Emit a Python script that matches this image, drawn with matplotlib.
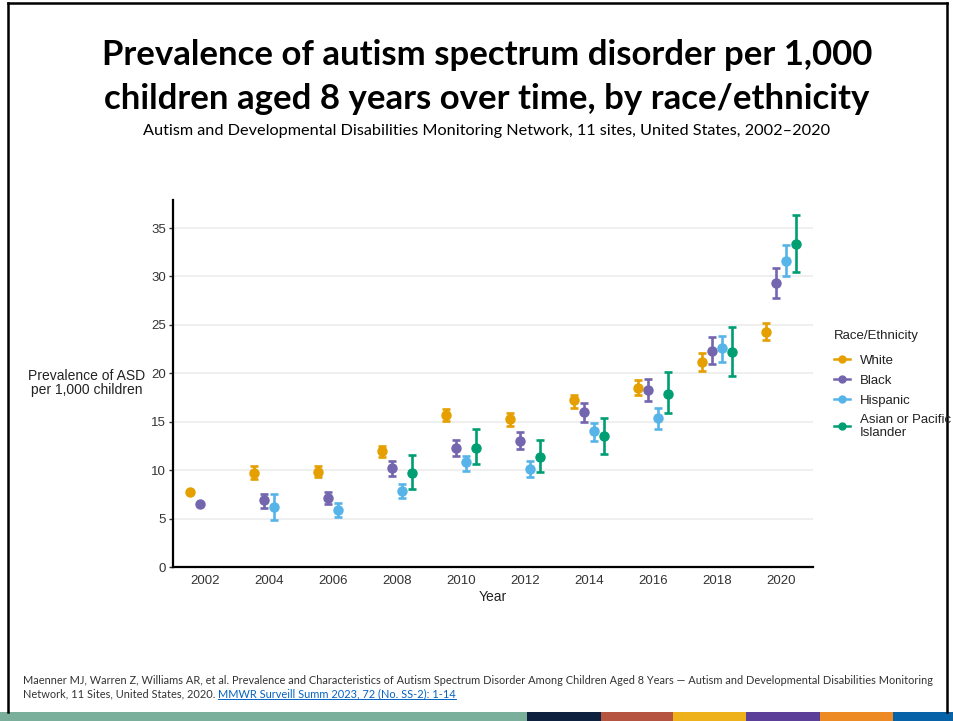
import numpy as np
import matplotlib.pyplot as plt
from matplotlib.lines import Line2D
from matplotlib.patches import Rectangle

# data (per 1,000 children)
years = [2002, 2004, 2006, 2008, 2010, 2012, 2014, 2016, 2018, 2020]
nan = np.nan

white = [7.7, 9.7, 9.8, 12.0, 15.7, 15.3, 17.2, 18.5, 21.2, 24.3]
white_lo = [7.7, 9.1, 9.3, 11.4, 15.1, 14.6, 16.4, 17.8, 20.2, 23.4]
white_hi = [7.7, 10.4, 10.4, 12.5, 16.3, 15.9, 17.8, 19.3, 22.1, 25.2]

black = [6.5, 6.9, 7.1, 10.2, 12.3, 13.0, 16.0, 18.3, 22.3, 29.3]
black_lo = [6.5, 6.1, 6.5, 9.4, 11.5, 12.2, 15.0, 17.1, 21.0, 27.8]
black_hi = [6.5, 7.5, 7.7, 10.9, 13.1, 13.9, 16.9, 19.4, 23.8, 30.9]

hispanic = [nan, 6.2, 5.9, 7.9, 10.8, 10.1, 14.0, 15.4, 22.6, 31.6]
hispanic_lo = [nan, 4.9, 5.2, 7.1, 9.9, 9.3, 13.0, 14.3, 21.2, 30.0]
hispanic_hi = [nan, 7.5, 6.6, 8.6, 11.5, 10.9, 14.9, 16.4, 23.9, 33.3]

asian = [nan, nan, nan, 9.7, 12.3, 11.4, 13.5, 17.9, 22.2, 33.4]
asian_lo = [nan, nan, nan, 8.1, 10.6, 9.8, 11.7, 15.9, 19.7, 30.5]
asian_hi = [nan, nan, nan, 11.6, 14.2, 13.1, 15.4, 20.1, 24.8, 36.4]

groups = ['White', 'Black', 'Hispanic', 'Asian or Pacific\nIslander']
colors = ['#E69F00', '#7466AE', '#56B4E9', '#009E73']
offsets = [-0.47, -0.155, 0.155, 0.47]

series = [(white, white_lo, white_hi), (black, black_lo, black_hi),
          (hispanic, hispanic_lo, hispanic_hi), (asian, asian_lo, asian_hi)]

W, H = 954, 721
fig = plt.figure(figsize=(W / 100, H / 100), dpi=100)
ax = fig.add_axes([173 / W, 1 - 567 / H, (813 - 173) / W, (567 - 200) / H])

axis_font = 'Liberation Sans'
slide_font = 'Lato'

for (val, lo, hi), col, off in zip(series, colors, offsets):
    v = np.array(val, dtype=float)
    l = np.array(lo, dtype=float)
    h = np.array(hi, dtype=float)
    ok = ~np.isnan(v)
    x = np.array(years, dtype=float)[ok] + off
    ax.errorbar(x, v[ok], yerr=[v[ok] - l[ok], h[ok] - v[ok]], fmt='o', color=col,
                markersize=6.5, elinewidth=1.9, capsize=3, capthick=1.9, zorder=3)

ax.set_xlim(2001, 2021)
ax.set_ylim(0, 37.9)
ax.set_xticks(years)
ax.set_yticks([0, 5, 10, 15, 20, 25, 30, 35])
ax.tick_params(axis='x', length=0, pad=6, labelsize=9.5, labelcolor='#333333')
ax.tick_params(axis='y', length=3, width=1, color='#333333', pad=2,
               labelsize=9.5, labelcolor='#333333')
for lab in ax.get_xticklabels() + ax.get_yticklabels():
    lab.set_family(axis_font)

ax.grid(axis='y', color='#EBEBEB', linewidth=1.1)
ax.set_axisbelow(True)
for s in ['top', 'right']:
    ax.spines[s].set_visible(False)
for s in ['left', 'bottom']:
    ax.spines[s].set_linewidth(1.6)
    ax.spines[s].set_color('black')

ax.set_xlabel('Year', family=axis_font, fontsize=10, color='#222222', labelpad=2)
fig.text(87 / W, 1 - 383 / H, 'Prevalence of ASD\nper 1,000 children', ha='center',
         va='center', family=axis_font, fontsize=10, color='#222222', linespacing=1.0)

# legend
handles = [Line2D([0], [0], color=c, marker='o', markersize=5, linewidth=1.8) for c in colors]
leg = fig.legend(handles, groups, loc='upper left', bbox_to_anchor=(834 / W, 1 - 330 / H),
                 frameon=False, title='Race/Ethnicity', alignment='left',
                 prop={'family': axis_font, 'size': 9.5}, handlelength=1.25,
                 handletextpad=0.7, labelspacing=0.58, borderpad=0, borderaxespad=0)
leg.get_title().set_family(axis_font)
leg.get_title().set_fontsize(9.5)
leg.get_title().set_color('#222222')
leg._legend_box.sep = 9
for t in leg.get_texts():
    t.set_color('#222222')
    t.set_linespacing(1.1)

# slide title
fig.text(487 / W, 1 - 55 / H, 'Prevalence of autism spectrum disorder per 1,000',
         ha='center', va='center', family=slide_font, fontweight='bold', fontsize=25)
fig.text(487 / W, 1 - 99 / H, 'children aged 8 years over time, by race/ethnicity',
         ha='center', va='center', family=slide_font, fontweight='bold', fontsize=25)
fig.text(487 / W, 1 - 131 / H,
         'Autism and Developmental Disabilities Monitoring Network, 11 sites, United States, 2002\u20132020',
         ha='center', va='center', family=slide_font, fontsize=11.7)

# footer reference
fs = 7.95
foot = dict(family=slide_font, fontsize=fs, color='#333333', va='center')
fig.text(23 / W, 1 - 680 / H,
         'Maenner MJ, Warren Z, Williams AR, et al. Prevalence and Characteristics of Autism Spectrum '
         'Disorder Among Children Aged 8 Years \u2014 Autism and Developmental Disabilities Monitoring',
         **foot)
t1 = fig.text(23 / W, 1 - 694 / H, 'Network, 11 Sites, United States, 2020. ', **foot)
fig.canvas.draw()
bb = t1.get_window_extent()
link = fig.text(bb.x1 / W, 1 - 694 / H, 'MMWR Surveill Summ 2023, 72 (No. SS-2): 1-14',
                family=slide_font, fontsize=fs, color='#0563C1', va='center')
fig.canvas.draw()
lb = link.get_window_extent()
fig.add_artist(Line2D([lb.x0 / W, lb.x1 / W], [(lb.y0 + 0.5) / H] * 2, color='#0563C1',
                      linewidth=0.7, transform=fig.transFigure))

# slide frame
for xs, ys in [([8, 8], [3, 712]), ([8, 947], [3, 3]), ([947, 947], [3, 712])]:
    fig.add_artist(Line2D([x / W for x in xs], [1 - y / H for y in ys], color='black',
                          linewidth=1.8, transform=fig.transFigure))

# bottom colour strip
strip = [(0, 527, '#7AAF9B'), (527, 601, '#0E2240'), (601, 673, '#B55441'),
         (673, 746, '#EFB11B'), (746, 820, '#5C3F98'), (820, 893, '#EE8A24'),
         (893, 954, '#0862A8')]
for x0, x1, c in strip:
    fig.add_artist(Rectangle((x0 / W, 0), (x1 - x0) / W, 9 / H, color=c,
                             transform=fig.transFigure, linewidth=0))

fig.savefig('out.png', dpi=100)
